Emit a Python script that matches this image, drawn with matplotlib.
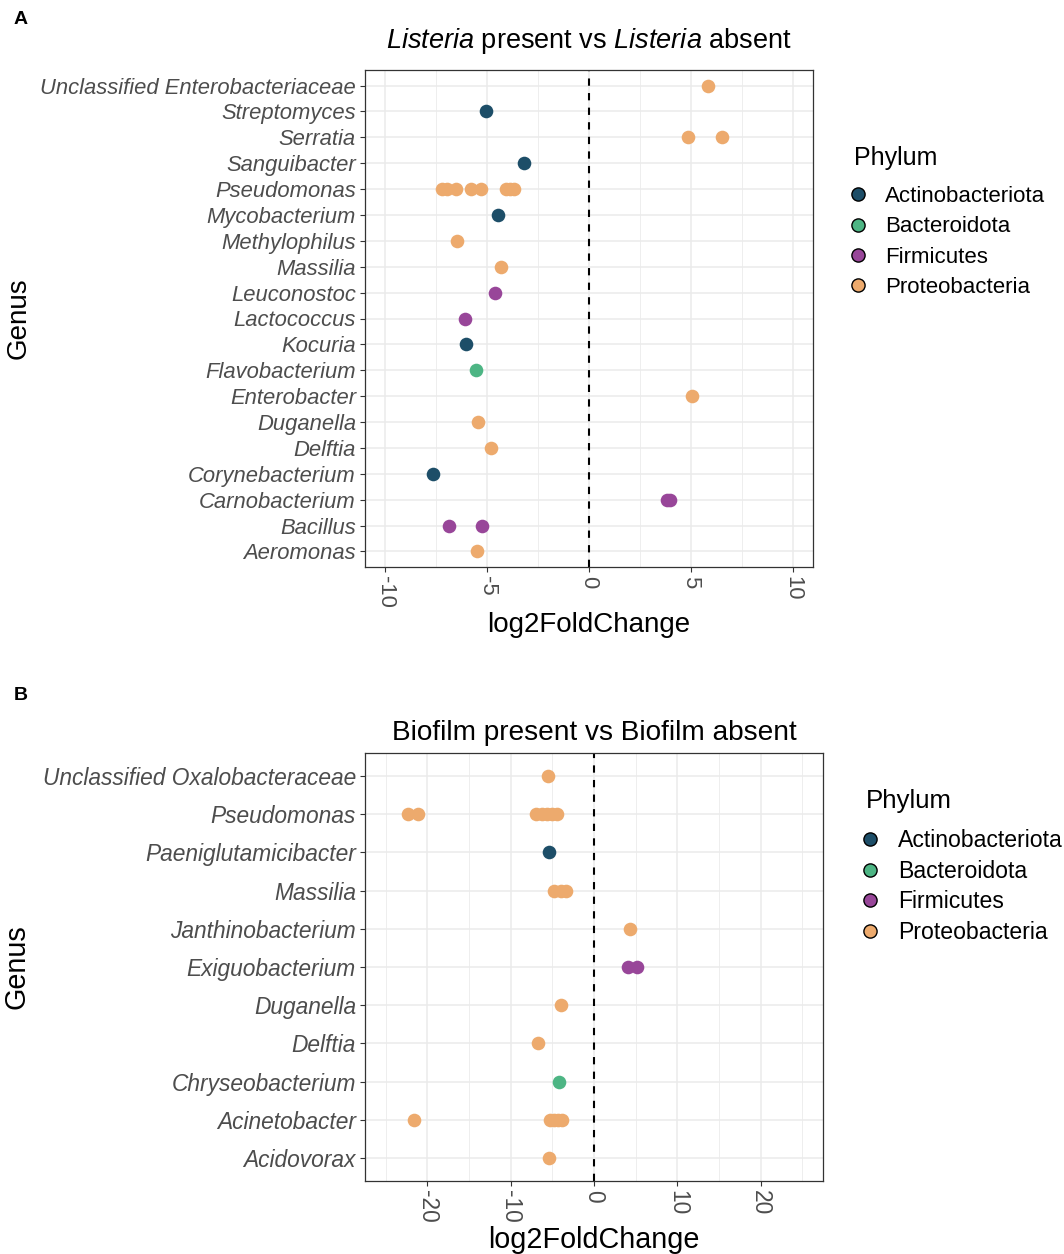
import matplotlib
matplotlib.use('Agg')
import matplotlib.pyplot as plt
from matplotlib.lines import Line2D

plt.rcParams['font.family'] = ['Liberation Sans', 'DejaVu Sans']
plt.rcParams['mathtext.fontset'] = 'custom'
plt.rcParams['mathtext.rm'] = 'Liberation Sans'
plt.rcParams['mathtext.it'] = 'Liberation Sans:italic'

phyla = ['Actinobacteriota', 'Bacteroidota', 'Firmicutes', 'Proteobacteria']
phylum_colors = ['#1d4e68', '#4db584', '#984699', '#edaa6d']

# panel A: genera bottom -> top
a_genera = ['Aeromonas', 'Bacillus', 'Carnobacterium', 'Corynebacterium', 'Delftia',
            'Duganella', 'Enterobacter', 'Flavobacterium', 'Kocuria', 'Lactococcus',
            'Leuconostoc', 'Massilia', 'Methylophilus', 'Mycobacterium', 'Pseudomonas',
            'Sanguibacter', 'Serratia', 'Streptomyces', 'Unclassified Enterobacteriaceae']
a_genus = ['Unclassified Enterobacteriaceae', 'Streptomyces', 'Serratia', 'Serratia',
           'Sanguibacter',
           'Pseudomonas', 'Pseudomonas', 'Pseudomonas', 'Pseudomonas', 'Pseudomonas',
           'Pseudomonas', 'Pseudomonas', 'Pseudomonas',
           'Mycobacterium', 'Methylophilus', 'Massilia', 'Leuconostoc', 'Lactococcus',
           'Kocuria', 'Flavobacterium', 'Enterobacter', 'Duganella', 'Delftia',
           'Corynebacterium', 'Carnobacterium', 'Carnobacterium', 'Bacillus', 'Bacillus',
           'Aeromonas']
a_phylum = ['Proteobacteria', 'Actinobacteriota', 'Proteobacteria', 'Proteobacteria',
            'Actinobacteriota',
            'Proteobacteria', 'Proteobacteria', 'Proteobacteria', 'Proteobacteria',
            'Proteobacteria', 'Proteobacteria', 'Proteobacteria', 'Proteobacteria',
            'Actinobacteriota', 'Proteobacteria', 'Proteobacteria', 'Firmicutes', 'Firmicutes',
            'Actinobacteriota', 'Bacteroidota', 'Proteobacteria', 'Proteobacteria',
            'Proteobacteria', 'Actinobacteriota', 'Firmicutes', 'Firmicutes', 'Firmicutes',
            'Firmicutes', 'Proteobacteria']
a_lfc = [5.83, -5.08, 4.88, 6.55,
         -3.2,
         -7.2, -6.95, -6.55, -5.8, -5.3, -4.1, -3.9, -3.7,
         -4.45, -6.47, -4.31, -4.64, -6.08,
         -6.03, -5.56, 5.06, -5.44, -4.8,
         -7.65, 3.82, 3.98, -6.88, -5.26,
         -5.51]

# panel B
b_genera = ['Acidovorax', 'Acinetobacter', 'Chryseobacterium', 'Delftia', 'Duganella',
            'Exiguobacterium', 'Janthinobacterium', 'Massilia', 'Paeniglutamicibacter',
            'Pseudomonas', 'Unclassified Oxalobacteraceae']
b_genus = ['Unclassified Oxalobacteraceae',
           'Pseudomonas', 'Pseudomonas', 'Pseudomonas', 'Pseudomonas', 'Pseudomonas',
           'Pseudomonas', 'Pseudomonas',
           'Paeniglutamicibacter', 'Massilia', 'Massilia', 'Massilia',
           'Janthinobacterium', 'Exiguobacterium', 'Exiguobacterium',
           'Duganella', 'Delftia', 'Chryseobacterium',
           'Acinetobacter', 'Acinetobacter', 'Acinetobacter', 'Acinetobacter', 'Acinetobacter',
           'Acidovorax']
b_phylum = ['Proteobacteria',
            'Proteobacteria', 'Proteobacteria', 'Proteobacteria', 'Proteobacteria',
            'Proteobacteria', 'Proteobacteria', 'Proteobacteria',
            'Actinobacteriota', 'Proteobacteria', 'Proteobacteria', 'Proteobacteria',
            'Proteobacteria', 'Firmicutes', 'Firmicutes',
            'Proteobacteria', 'Proteobacteria', 'Bacteroidota',
            'Proteobacteria', 'Proteobacteria', 'Proteobacteria', 'Proteobacteria',
            'Proteobacteria',
            'Proteobacteria']
b_lfc = [-5.47,
         -22.36, -21.12, -7.0, -6.3, -5.6, -5.0, -4.5,
         -5.35, -4.79, -3.95, -3.31,
         4.35, 4.03, 5.11,
         -3.99, -6.67, -4.19,
         -21.64, -5.3, -4.8, -4.3, -3.8,
         -5.35]

W, H = 1064, 1254
fig = plt.figure(figsize=(W / 100, H / 100), dpi=100)


def fx(px):
    return px / W


def fy(py):
    return 1 - py / H


def draw_panel(ax, genera, genus, phylum, lfc, lim, major, minor, title, tpad, xlab_y, ylab_x,
               k=1.0):
    ypos = {g: i for i, g in enumerate(genera)}
    for ph, col in zip(phyla, phylum_colors):
        xs = [v for v, p in zip(lfc, phylum) if p == ph]
        ys = [ypos[g] for g, p in zip(genus, phylum) if p == ph]
        ax.plot(xs, ys, 'o', color=col, ms=9.8, mec='none', zorder=3)
    ax.axvline(0, color='black', ls=(0, (3.5, 3.5)), lw=1.5, zorder=2)
    ax.set_xlim(lim)
    ax.set_ylim(-0.6, len(genera) - 1 + 0.6)
    ax.set_yticks(range(len(genera)))
    ax.set_yticklabels(genera, style='italic', color='#4d4d4d', fontsize=15.8 * k)
    ax.set_xticks(major)
    ax.set_xticks(minor, minor=True)
    ax.set_xticklabels([str(v) for v in major], rotation=-90, color='#4d4d4d',
                       fontsize=15.8 * k)
    ax.tick_params(axis='x', which='minor', length=0)
    ax.tick_params(which='major', length=3.5, color='#333333', width=0.8, pad=3)
    ax.grid(which='major', color='#ebebeb', lw=1.1)
    ax.grid(which='minor', axis='x', color='#ebebeb', lw=0.6)
    ax.set_axisbelow(True)
    for s in ax.spines.values():
        s.set_color('#333333')
        s.set_linewidth(0.9)
    ax.set_xlabel('log2FoldChange', fontsize=20 * k)
    ax.xaxis.set_label_coords(0.5, xlab_y)
    ax.set_ylabel('Genus', fontsize=20 * k)
    ax.yaxis.set_label_coords(ylab_x, 0.5)
    ax.set_title(title, fontsize=19.5 * k, pad=tpad)


# panel A
axA = fig.add_axes([fx(365), fy(567), (813 - 365) / W, (567 - 70) / H])
draw_panel(axA, a_genera, a_genus, a_phylum, a_lfc, (-11, 11), [-10, -5, 0, 5, 10],
           [-7.5, -2.5, 2.5, 7.5], r'$\it{Listeria}$ present vs $\it{Listeria}$ absent',
           16, -0.091, -0.745)

# panel B
axB = fig.add_axes([fx(365), fy(1181), (823 - 365) / W, (1181 - 753) / H])
draw_panel(axB, b_genera, b_genus, b_phylum, b_lfc, (-27.5, 27.5), [-20, -10, 0, 10, 20],
           [-25, -15, -5, 5, 15, 25], 'Biofilm present vs Biofilm absent',
           9.5, -0.106, -0.73, k=1.035)

fig.text(fx(14), fy(20), 'A', fontsize=14, weight='bold', va='center')
fig.text(fx(14), fy(695), 'B', fontsize=14, weight='bold', va='center')

handles = [Line2D([], [], ls='none', marker='o', mfc=c, mec='black', mew=1.0, ms=9.5)
           for c in phylum_colors]

for tx, ty, lx, ly, sp, fs in [(854, 158, 848, 186, 0.42, 16), (866, 801, 860, 829, 0.33, 16.6)]:
    fig.text(fx(tx), fy(ty), 'Phylum', fontsize=fs * 1.125, va='center')
    fig.legend(handles, phyla, loc='upper left', bbox_to_anchor=(fx(lx), fy(ly)),
               frameon=False, fontsize=fs, handlelength=0.9, handletextpad=0.75,
               labelspacing=sp, borderpad=0, borderaxespad=0)

fig.savefig('out.png', dpi=100)
